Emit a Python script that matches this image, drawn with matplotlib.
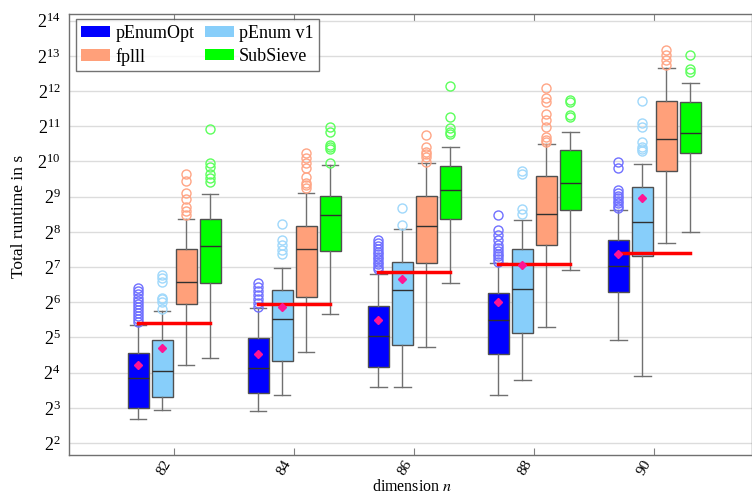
import numpy as np
import matplotlib.pyplot as plt
from matplotlib.patches import Patch
from matplotlib.ticker import FixedLocator, LogFormatterSciNotation, NullLocator

plt.rcParams["font.family"] = ["Liberation Serif", "DejaVu Serif"]
plt.rcParams["mathtext.fontset"] = "stix"

# Data, all runtimes given as log2(seconds)
dims = [82, 84, 86, 88, 90]
series = ["pEnumOpt", "pEnum v1", "fplll", "SubSieve"]

opt_q1 = [2.99, 3.41, 4.17, 4.54, 6.28]
opt_med = [3.85, 4.12, 5.04, 5.49, 7.03]
opt_q3 = [4.57, 4.97, 5.89, 6.25, 7.77]
opt_lo = [2.69, 2.92, 3.60, 3.36, 4.93]
opt_hi = [5.36, 5.84, 6.79, 7.12, 8.61]
opt_mean = [4.22, 4.53, 5.49, 6.00, 7.38]
opt_fliers = [
    [5.45, 5.52, 5.6, 5.68, 5.77, 5.86, 5.95, 6.04, 6.13, 6.22, 6.31, 6.4],
    [5.87, 5.97, 6.08, 6.2, 6.32, 6.44, 6.55],
    [6.95, 7.01, 7.08, 7.15, 7.22, 7.29, 7.36, 7.43, 7.5, 7.59, 7.68, 7.77],
    [7.15, 7.22, 7.3, 7.38, 7.46, 7.53, 7.63, 7.77, 7.91, 8.05, 8.48],
    [8.67, 8.74, 8.81, 8.88, 8.95, 9.02, 9.09, 9.19, 9.8, 9.99],
]

v1_q1 = [3.31, 4.34, 4.78, 5.14, 7.32]
v1_med = [4.05, 5.53, 6.34, 6.39, 8.28]
v1_q3 = [4.93, 6.34, 7.13, 7.50, 9.28]
v1_lo = [2.93, 3.36, 3.60, 3.80, 3.91]
v1_hi = [5.75, 6.96, 8.08, 8.34, 9.94]
v1_mean = [4.71, 5.87, 6.66, 7.07, 8.96]
v1_fliers = [
    [5.8, 6.01, 6.08, 6.12, 6.58, 6.7, 6.77],
    [7.37, 7.48, 7.62, 7.76, 8.23],
    [8.19, 8.69],
    [8.52, 8.65, 9.63, 9.73],
    [10.3, 10.36, 10.42, 10.56, 10.98, 11.1, 11.72],
]

fp_q1 = [5.96, 6.14, 7.12, 7.64, 9.72]
fp_med = [6.58, 7.50, 8.17, 8.52, 10.64]
fp_q3 = [7.51, 8.18, 9.03, 9.59, 11.72]
fp_lo = [4.22, 4.58, 4.72, 5.30, 7.67]
fp_hi = [8.37, 9.11, 9.97, 10.49, 12.66]
fp_fliers = [
    [8.48, 8.59, 8.7, 8.93, 9.11, 9.45, 9.64],
    [9.24, 9.32, 9.4, 9.57, 9.8, 9.95, 10.09, 10.23],
    [9.99, 10.13, 10.2, 10.28, 10.42, 10.75],
    [10.56, 10.62, 10.7, 10.97, 11.18, 11.34, 11.7, 11.81, 12.09],
    [12.74, 12.88, 13.02, 13.17],
]

ss_q1 = [6.55, 7.45, 8.36, 8.61, 10.24]
ss_med = [7.61, 8.48, 9.19, 9.39, 10.80]
ss_q3 = [8.37, 9.03, 9.86, 10.32, 11.68]
ss_lo = [4.41, 5.66, 6.54, 6.92, 7.99]
ss_hi = [9.08, 9.90, 10.42, 10.85, 12.24]
ss_fliers = [
    [9.42, 9.54, 9.64, 9.85, 9.95, 10.92],
    [9.95, 10.34, 10.42, 10.47, 10.84, 10.97],
    [10.78, 10.84, 10.94, 11.27, 12.14],
    [11.25, 11.32, 11.68, 11.75],
    [12.55, 12.64, 13.02],
]

red_level = [5.40, 5.94, 6.85, 7.08, 7.39]

colors = ["#0000ff", "#87cefa", "#ffa07a", "#00ff00"]
flier_colors = ["#7070ff", "#9fd8fb", "#ffa585", "#5cff5c"]
offsets = [-0.6, -0.2, 0.2, 0.6]

groups = [
    (opt_q1, opt_med, opt_q3, opt_lo, opt_hi, opt_fliers, opt_mean),
    (v1_q1, v1_med, v1_q3, v1_lo, v1_hi, v1_fliers, v1_mean),
    (fp_q1, fp_med, fp_q3, fp_lo, fp_hi, fp_fliers, None),
    (ss_q1, ss_med, ss_q3, ss_lo, ss_hi, ss_fliers, None),
]

fig = plt.figure(figsize=(7.52, 4.96), dpi=100)
ax = fig.add_axes([0.0918, 0.0827, 0.9082, 0.8891])
ax.set_yscale("log", base=2)

for k, (q1, med, q3, lo, hi, fl, mn) in enumerate(groups):
    stats = []
    for i in range(len(dims)):
        stats.append({
            "q1": 2 ** q1[i], "med": 2 ** med[i], "q3": 2 ** q3[i],
            "whislo": 2 ** lo[i], "whishi": 2 ** hi[i],
            "fliers": [2 ** v for v in fl[i]],
        })
    pos = [d + offsets[k] for d in dims]
    ax.bxp(stats, positions=pos, widths=0.35, patch_artist=True,
           capwidths=0.28, showfliers=True, manage_ticks=False,
           boxprops=dict(facecolor=colors[k], edgecolor="#505050", linewidth=1.0),
           medianprops=dict(color="#303030", linewidth=1.0),
           whiskerprops=dict(color="#707070", linewidth=1.0),
           capprops=dict(color="#707070", linewidth=1.0),
           flierprops=dict(marker="o", markerfacecolor="none",
                           markeredgecolor=flier_colors[k], markersize=6.5,
                           markeredgewidth=1.0),
           zorder=3)
    if mn is not None:
        ax.plot(pos, [2 ** v for v in mn], linestyle="none", marker="D",
                markersize=4.5, color="#ff1493", zorder=5)

# red reference level per dimension
for i, d in enumerate(dims):
    ax.plot([d + offsets[0], d + offsets[3]], [2 ** red_level[i]] * 2,
            color="#ff0000", linewidth=2.5, zorder=4)

ax.set_xlim(80.25, 91.63)
ax.set_ylim(2 ** 1.66, 2 ** 14.19)
ax.yaxis.set_major_locator(FixedLocator([2.0 ** k for k in range(2, 15)]))
ax.yaxis.set_major_formatter(LogFormatterSciNotation(base=2))
ax.yaxis.set_minor_locator(NullLocator())
ax.set_xticks(dims)
ax.set_xticklabels([str(d) for d in dims], rotation=60, ha="right")
ax.tick_params(axis="x", direction="in", top=True, length=5, color="#808080",
               labelsize=11, pad=2)
ax.tick_params(axis="y", direction="in", length=0, labelsize=13, pad=6)
ax.grid(axis="y", color="#dcdcdc", linewidth=1.0, zorder=0)
ax.set_axisbelow(True)
for s in ax.spines.values():
    s.set_color("#707070")
    s.set_linewidth(1.0)

ax.set_ylabel("Total runtime in s", fontsize=12.5)
ax.yaxis.set_label_coords(-0.062, 0.542)
ax.set_xlabel("dimension $n$", fontsize=11.5)
ax.xaxis.set_label_coords(0.502, -0.055)

# matplotlib fills legend columns first, so reorder to get rows
order = [0, 2, 1, 3]
handles = [Patch(facecolor=colors[i], edgecolor="none") for i in order]
labels = [series[i] for i in order]
leg = ax.legend(handles, labels, loc="upper left", ncol=2, fontsize=13,
                frameon=True, fancybox=False, borderpad=0.3,
                handlelength=1.6, handleheight=0.6, handletextpad=0.28,
                columnspacing=0.6, labelspacing=0.33,
                bbox_to_anchor=(0.01, 0.988), borderaxespad=0)
leg.get_frame().set_edgecolor("#505050")
leg.get_frame().set_linewidth(1.0)

fig.savefig("out.png", dpi=100)
